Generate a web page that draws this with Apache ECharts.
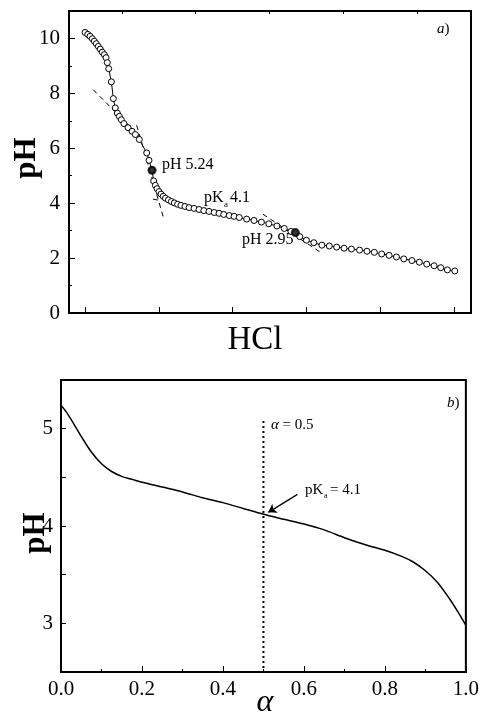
<!DOCTYPE html>
<html lang="en">
<head>
<meta charset="UTF-8">
<title>pH titration</title>
<style>
	html, body { margin: 0; padding: 0; background: #fff; }
	#main { width: 482px; height: 719px; }
</style>
</head>
<body>
<div id="main"></div>
<script src="https://cdn.jsdelivr.net/npm/echarts@6/dist/echarts.min.js"></script>
<script type="text/javascript">
	// a) titration curve, x in HCl tick units
	var hclVol = [0, 0.037, 0.068, 0.099, 0.126, 0.153, 0.18, 0.207, 0.234, 0.262, 0.285, 0.302, 0.321, 0.357, 0.384, 0.41, 0.438, 0.465, 0.492, 0.528,
		0.583, 0.637, 0.682, 0.736, 0.836, 0.867, 0.908, 0.93, 0.953, 0.976, 1.003, 1.03, 1.06, 1.09, 1.13, 1.17, 1.21, 1.255, 1.30, 1.355,
		1.41, 1.477, 1.545, 1.61, 1.68, 1.75, 1.816, 1.88, 1.955, 2.02, 2.09, 2.19, 2.29, 2.39, 2.49, 2.60, 2.70, 2.79, 2.85, 2.91,
		3.0, 3.10, 3.21, 3.31, 3.41, 3.51, 3.61, 3.72, 3.82, 3.92, 4.02, 4.12, 4.22, 4.32, 4.43, 4.53, 4.63, 4.73, 4.82, 4.91, 5.01];
	var phTop = [10.22, 10.15, 10.08, 9.99, 9.9, 9.81, 9.71, 9.61, 9.5, 9.41, 9.3, 9.12, 8.9, 8.42, 7.81, 7.47, 7.28, 7.16, 7.04, 6.9,
		6.75, 6.62, 6.5, 6.32, 5.83, 5.56, 5.2, 4.81, 4.65, 4.53, 4.42, 4.33, 4.25, 4.18, 4.12, 4.06, 4.01, 3.96, 3.92, 3.88,
		3.84, 3.81, 3.77, 3.73, 3.70, 3.66, 3.63, 3.59, 3.55, 3.52, 3.48, 3.42, 3.37, 3.31, 3.25, 3.17, 3.08, 2.97, 2.93, 2.78,
		2.65, 2.56, 2.47, 2.44, 2.40, 2.36, 2.33, 2.29, 2.25, 2.21, 2.15, 2.10, 2.04, 1.97, 1.91, 1.85, 1.78, 1.72, 1.65, 1.57, 1.53];
	var keyPoints = [[0.908, 5.2], [2.85, 2.93]];
	// dashed tangents
	var tangent1 = [[0.112, 8.13], [0.76, 6.38]];
	var tangent2 = [[0.70, 6.84], [1.06, 3.50]];
	var tangent3 = [[0.92, 4.15], [1.03, 4.09]];
	var tangent4 = [[2.41, 3.60], [3.18, 2.23]];
	var xTicksMajor = [0, 1, 2, 3, 4, 5];
	var xTicksMinor = [0.5, 1.5, 2.5, 3.5, 4.5];

	// b) pH vs alpha
	var alpha = [0, 0.015, 0.03, 0.05, 0.075, 0.1, 0.125, 0.15, 0.175, 0.2, 0.25, 0.3, 0.35, 0.4, 0.45, 0.5,
		0.55, 0.6, 0.65, 0.7, 0.75, 0.8, 0.84, 0.87, 0.9, 0.93, 0.96, 0.98, 1.0];
	var phAlpha = [5.24, 5.16, 5.06, 4.92, 4.76, 4.64, 4.56, 4.51, 4.48, 4.45, 4.40, 4.35, 4.29, 4.24, 4.18, 4.12,
		4.07, 4.02, 3.96, 3.88, 3.81, 3.75, 3.69, 3.63, 3.54, 3.42, 3.25, 3.12, 2.98];
	var halfLine = [[0.5, 5.08], [0.5, 2.5]];
	var arrowLine = [[0.584, 4.325], [0.512, 4.14]];

	function pairs(xs, ys) {
		var out = [];
		for (var i = 0; i < xs.length; i++) {
			out.push([xs[i], ys[i]]);
		}
		return out;
	}

	var serif = 'Liberation Serif, Times New Roman, serif';
	var black = '#000';

	function dashed(data) {
		return {
			type: 'line', xAxisIndex: 0, yAxisIndex: 0, data: data,
			symbol: 'none', silent: true,
			lineStyle: { color: black, width: 1, type: [5, 4] },
			z: 1
		};
	}

	var myChart = echarts.init(document.getElementById('main'));
	var option = {
		backgroundColor: '#fff',
		animation: false,
		grid: [
			{ left: 69, top: 11, width: 402, height: 302, show: true, borderColor: black, borderWidth: 2, backgroundColor: 'transparent' },
			{ left: 61, top: 380, width: 406, height: 292, show: true, borderColor: black, borderWidth: 2, backgroundColor: 'transparent' }
		],
		xAxis: [
			{
				gridIndex: 0, type: 'value', min: -0.217, max: 5.23,
				axisLine: { show: true, onZero: false, lineStyle: { color: black, width: 2 } },
				axisTick: { show: true, inside: true, length: 6, customValues: xTicksMajor, lineStyle: { color: black } },
				axisLabel: { show: false },
				splitLine: { show: false }
			},
			{
				gridIndex: 0, type: 'value', min: -0.217, max: 5.23,
				axisLine: { show: false, onZero: false },
				axisTick: { show: true, inside: true, length: 3, customValues: xTicksMinor, lineStyle: { color: black } },
				axisLabel: { show: false },
				splitLine: { show: false }
			},
			{
				gridIndex: 1, type: 'value', min: 0, max: 1, interval: 0.2,
				axisLine: { show: true, onZero: false, lineStyle: { color: black, width: 2 } },
				axisTick: { show: true, inside: true, length: 6, lineStyle: { color: black } },
				minorTick: { show: true, splitNumber: 2, length: 3, lineStyle: { color: black } },
				axisLabel: {
					color: black, fontFamily: serif, fontSize: 21, margin: 7,
					formatter: function (v) { return v.toFixed(1); }
				},
				splitLine: { show: false }
			}
		],
		yAxis: [
			{
				gridIndex: 0, type: 'value', min: 0, max: 11, interval: 2,
				axisLine: { show: true, onZero: false, lineStyle: { color: black, width: 2 } },
				axisTick: { show: true, inside: true, length: 6, lineStyle: { color: black } },
				minorTick: { show: true, splitNumber: 2, length: 3, lineStyle: { color: black } },
				axisLabel: { color: black, fontFamily: serif, fontSize: 21, margin: 9, showMaxLabel: false },
				splitLine: { show: false }
			},
			{
				gridIndex: 1, type: 'value', min: 2.5, max: 5.5, interval: 0.5,
				axisLine: { show: true, onZero: false, lineStyle: { color: black, width: 2 } },
				axisTick: { show: true, inside: true, length: 5, lineStyle: { color: black } },
				axisLabel: {
					color: black, fontFamily: serif, fontSize: 21, margin: 8,
					formatter: function (v) { return Math.abs(v - Math.round(v)) < 1e-6 ? String(Math.round(v)) : ''; }
				},
				splitLine: { show: false }
			}
		],
		series: [
			dashed(tangent1),
			dashed(tangent2),
			dashed(tangent3),
			dashed(tangent4),
			{
				type: 'line', xAxisIndex: 0, yAxisIndex: 0,
				data: pairs(hclVol, phTop),
				symbol: 'circle', symbolSize: 6,
				itemStyle: { color: '#fff', borderColor: black, borderWidth: 1 },
				lineStyle: { color: black, width: 1 },
				z: 3
			},
			{
				type: 'scatter', xAxisIndex: 0, yAxisIndex: 0,
				data: keyPoints, symbol: 'circle', symbolSize: 9,
				itemStyle: { color: black },
				z: 4
			},
			{
				type: 'line', xAxisIndex: 2, yAxisIndex: 1,
				data: pairs(alpha, phAlpha),
				symbol: 'none', smooth: 0.3,
				lineStyle: { color: black, width: 1.5 },
				z: 3
			},
			{
				type: 'line', xAxisIndex: 2, yAxisIndex: 1,
				data: halfLine, symbol: 'none',
				lineStyle: { color: black, width: 2, type: [2, 3] },
				z: 2
			},
			{
				type: 'lines', coordinateSystem: 'cartesian2d', xAxisIndex: 2, yAxisIndex: 1,
				data: [{ coords: arrowLine }],
				symbol: ['none', 'arrow'], symbolSize: 8,
				lineStyle: { color: black, width: 1.2, opacity: 1 },
				z: 4
			}
		],
		graphic: [
			// axis titles
			{ type: 'text', x: 27, y: 158, rotation: Math.PI / 2, style: { text: 'pH', font: 'bold 31px ' + serif, fill: black, align: 'center', verticalAlign: 'middle' } },
			{ type: 'text', x: 255, y: 340, style: { text: 'HCl', font: '33px ' + serif, fill: black, align: 'center', verticalAlign: 'middle' } },
			{ type: 'text', x: 36, y: 533, rotation: Math.PI / 2, style: { text: 'pH', font: 'bold 31px ' + serif, fill: black, align: 'center', verticalAlign: 'middle' } },
			{ type: 'text', x: 265, y: 703, style: { text: '\u03b1', font: 'italic 32px ' + serif, fill: black, align: 'center', verticalAlign: 'middle' } },
			// panel a annotations
			{ type: 'text', x: 437, y: 29, style: { text: '{i|a}{n|)}', fill: black, verticalAlign: 'middle', rich: { i: { font: 'italic 15px ' + serif }, n: { font: '15px ' + serif } } } },
			{ type: 'text', x: 162, y: 165, style: { text: 'pH 5.24', font: '16px ' + serif, fill: black, verticalAlign: 'middle' } },
			{ type: 'text', x: 204, y: 198, style: { text: 'pK', font: '16px ' + serif, fill: black, verticalAlign: 'middle' } },
			{ type: 'text', x: 224, y: 205, style: { text: 'a', font: '9px ' + serif, fill: black, verticalAlign: 'middle' } },
			{ type: 'text', x: 230, y: 198, style: { text: '4.1', font: '16px ' + serif, fill: black, verticalAlign: 'middle' } },
			{ type: 'text', x: 242, y: 240, style: { text: 'pH 2.95', font: '16px ' + serif, fill: black, verticalAlign: 'middle' } },
			// panel b annotations
			{ type: 'text', x: 447, y: 403, style: { text: '{i|b}{n|)}', fill: black, verticalAlign: 'middle', rich: { i: { font: 'italic 15px ' + serif }, n: { font: '15px ' + serif } } } },
			{ type: 'text', x: 271, y: 425, style: { text: '{i|\u03b1}{n| = 0.5}', fill: black, verticalAlign: 'middle', rich: { i: { font: 'italic 15px ' + serif }, n: { font: '15px ' + serif } } } },
			{ type: 'text', x: 305, y: 490, style: { text: 'pK', font: '15px ' + serif, fill: black, verticalAlign: 'middle' } },
			{ type: 'text', x: 324, y: 496, style: { text: 'a', font: '8px ' + serif, fill: black, verticalAlign: 'middle' } },
			{ type: 'text', x: 330, y: 490, style: { text: '= 4.1', font: '15px ' + serif, fill: black, verticalAlign: 'middle' } }
		]
	};
	myChart.setOption(option);
</script>
</body>
</html>
